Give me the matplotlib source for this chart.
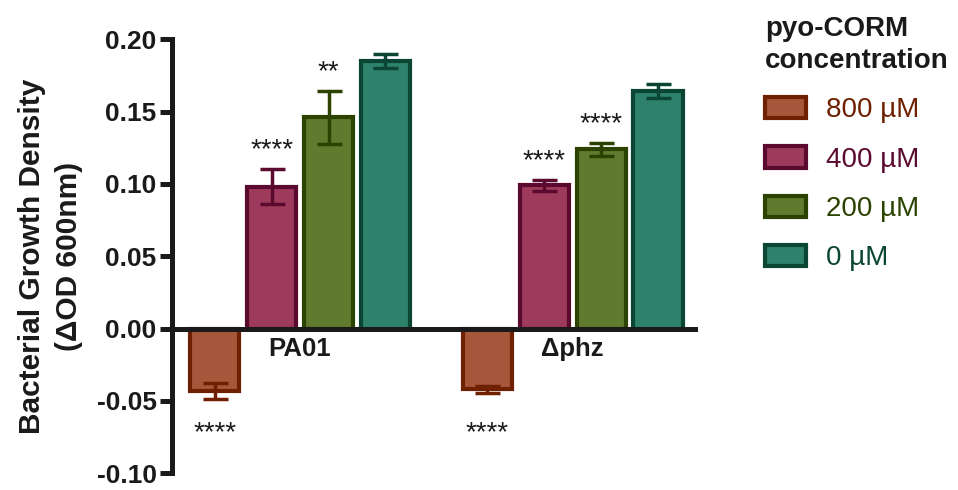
import numpy as np
import matplotlib
matplotlib.use("Agg")
import matplotlib.pyplot as plt
from matplotlib.patches import Patch

plt.rcParams['font.family'] = ['Liberation Sans', 'DejaVu Sans']
plt.rcParams['axes.unicode_minus'] = False

strains = ["PA01", "\u0394phz"]
concentrations = ["800 \u00b5M", "400 \u00b5M", "200 \u00b5M", "0 \u00b5M"]
# growth values per concentration: [PA01, dphz]
means = [[-0.043, -0.042],
         [0.098, 0.099],
         [0.146, 0.124],
         [0.185, 0.164]]
errors = [[0.0057, 0.0025],
          [0.012, 0.0037],
          [0.0184, 0.0045],
          [0.0047, 0.0047]]
stars = [["****", "****"],
         ["****", "****"],
         ["**", "****"],
         ["", ""]]
yticks = [-0.10, -0.05, 0.00, 0.05, 0.10, 0.15, 0.20]

face = ["#a6563b", "#9e3a5c", "#607b2e", "#2e826b"]
edge = ["#6e2000", "#5a0a2e", "#2b4200", "#0b4534"]
axis_col = "#1a1a1a"

fig = plt.figure(figsize=(9.58, 4.90), dpi=100)
ax = fig.add_axes([0.1795, 0.034, 0.549, 0.886])

x = np.arange(len(strains))
step = 0.209
width = 0.18
for i in range(len(concentrations)):
    xs = x + (i - 1.5) * step
    ax.bar(xs, means[i], width=width, color=face[i], edgecolor=edge[i],
           linewidth=3.0, zorder=2)
    ax.errorbar(xs, means[i], yerr=errors[i], fmt="none", ecolor=edge[i],
                elinewidth=2.5, capsize=9, capthick=2.5, zorder=3)
    for j in range(len(strains)):
        if not stars[i][j]:
            continue
        if means[i][j] < 0:
            ypos = -0.072
            va = "center"
        else:
            ypos = means[i][j] + errors[i][j] + 0.004
            va = "bottom"
        ax.text(xs[j], ypos, stars[i][j], ha="center", va=va,
                fontsize=20, color=axis_col)

ax.axhline(0, color=axis_col, lw=3.6, zorder=4)
for j, name in enumerate(strains):
    ax.text(x[j], -0.006, name, ha="center", va="top", fontsize=18.5,
            fontweight="bold", color=axis_col)

ax.set_xlim(-0.47, 1.46)
ax.set_ylim(-0.10, 0.20)
ax.set_yticks(yticks)
ax.set_yticklabels([f"{t:.2f}" for t in yticks], fontsize=19,
                   fontweight="bold", color=axis_col)
ax.set_xticks([])
for s in ["top", "right", "bottom"]:
    ax.spines[s].set_visible(False)
ax.spines["left"].set_linewidth(3.6)
ax.spines["left"].set_color(axis_col)
ax.spines["left"].set_bounds(-0.10, 0.20)
ax.tick_params(axis="y", width=3.6, length=9, color=axis_col, pad=2)
ax.set_ylabel("Bacterial Growth Density\n(\u0394OD 600nm)", fontsize=21.5,
              fontweight="bold", color=axis_col, labelpad=10, linespacing=1.4)

handles = [Patch(facecolor=face[i], edgecolor=edge[i], linewidth=3.0)
           for i in range(len(concentrations))]
leg = ax.legend(handles, concentrations, loc="upper left",
                bbox_to_anchor=(0.787, 0.99), bbox_transform=fig.transFigure,
                frameon=False, fontsize=20, labelcolor=edge,
                title="pyo-CORM\nconcentration", alignment="left",
                handlelength=1.47, handleheight=0.8, handletextpad=0.72,
                labelspacing=0.83, borderaxespad=0)
leg.get_title().set_fontsize(20)
leg.get_title().set_fontweight("bold")
leg.get_title().set_color(axis_col)
leg.get_title().set_linespacing(1.3)

fig.savefig("out.png", dpi=100)
